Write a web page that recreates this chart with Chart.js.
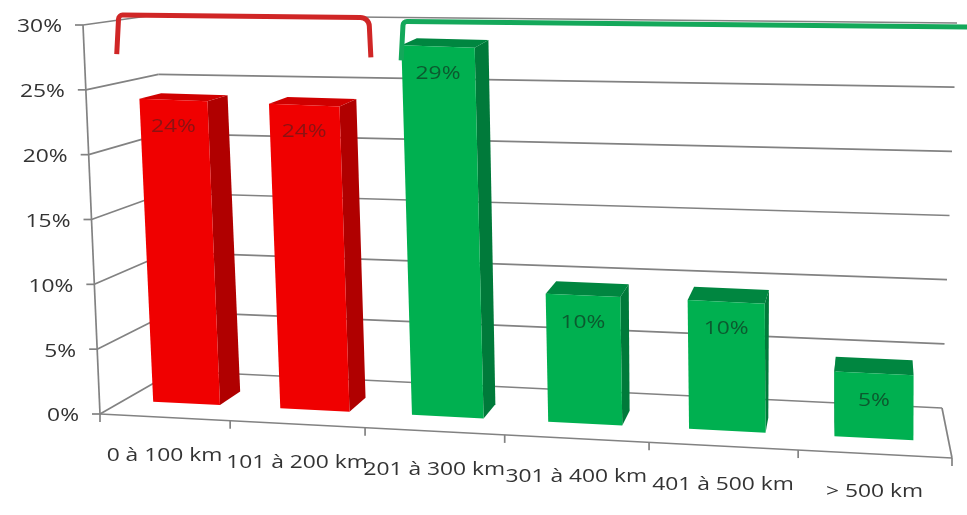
<!DOCTYPE html>
<html>
<head>
<meta charset="utf-8">
<script src="https://cdn.jsdelivr.net/npm/chart.js@4.4.0/dist/chart.umd.min.js"></script>
<style>
  html, body { margin: 0; padding: 0; background: #fff; }
</style>
</head>
<body>
<canvas id="chart" width="967" height="515"></canvas>
<script>
// data
var categories = ['0 à 100 km', '101 à 200 km', '201 à 300 km', '301 à 400 km', '401 à 500 km', '> 500 km'];
var shares = [0.24, 0.24, 0.29, 0.10, 0.10, 0.05];
var yTicks = [0, 0.05, 0.10, 0.15, 0.20, 0.25, 0.30];
var barGroup = [0, 0, 1, 1, 1, 1];

// brackets over the two groups, in category units
var groupFrom = [-0.4, 1.75];
var groupTo = [1.5, 6.5];
var groupTop = [0.30, 0.297];

var palette = [
    {front: '#f00000', side: '#b00000', top: '#d00000', text: '#8c1212', bracket: '#d02626'},
    {front: '#00b050', side: '#007a3a', top: '#008640', text: '#0b5a2f', bracket: '#14a85a'}
];

// the 3d box: front edge plane and back wall, in canvas pixels
var frontBox = {bl: [100, 414], br: [952, 458], tl: [83, 25], tr: [948, 66]};
var backWall = {bl: [175, 371], br: [942, 408], tl: [155, 15], tr: [957, 23]};
var barFront = 0.32, barBack = 0.63, foreshort = 0.1;
var textStretch = 1.2;
var font = '19px "Open Sans"';

function quad(q, a, b) {
    var x0 = q.bl[0] + (q.br[0] - q.bl[0]) * a, y0 = q.bl[1] + (q.br[1] - q.bl[1]) * a;
    var x1 = q.tl[0] + (q.tr[0] - q.tl[0]) * a, y1 = q.tl[1] + (q.tr[1] - q.tl[1]) * a;
    return [x0 + (x1 - x0) * b, y0 + (y1 - y0) * b];
}

function proj(a, b, c) {
    var w = a - foreshort * a * (1 - a);
    var f = quad(frontBox, w, b), k = quad(backWall, w, b);
    return [f[0] + (k[0] - f[0]) * c, f[1] + (k[1] - f[1]) * c];
}

function line(ctx, p, q) {
    ctx.beginPath();
    ctx.moveTo(p[0], p[1]);
    ctx.lineTo(q[0], q[1]);
    ctx.stroke();
}

function poly(ctx, pts, color) {
    ctx.beginPath();
    ctx.moveTo(pts[0][0], pts[0][1]);
    for (var i = 1; i < pts.length; i++) ctx.lineTo(pts[i][0], pts[i][1]);
    ctx.closePath();
    ctx.fillStyle = color;
    ctx.fill();
}

function text(ctx, str, x, y, align, color) {
    ctx.save();
    ctx.font = font;
    ctx.fillStyle = color;
    ctx.textAlign = align;
    ctx.textBaseline = 'middle';
    ctx.translate(x, y);
    ctx.scale(textStretch, 1);
    ctx.fillText(str, 0, 0);
    ctx.restore();
}

function pct(v) {
    return Math.round(v * 100) + '%';
}

var perspective = {
    id: 'perspective',
    beforeDraw: function (chart) {
        var ctx = chart.ctx;
        ctx.save();
        ctx.fillStyle = '#fff';
        ctx.fillRect(0, 0, chart.width, chart.height);
        ctx.restore();
    },
    beforeDatasetsDraw: function () {
        return false;
    },
    afterDraw: function (chart) {
        var ctx = chart.ctx, area = chart.chartArea;
        var xs = chart.scales.x, ys = chart.scales.y;
        var toA = function (px) { return (px - area.left) / (area.right - area.left); };
        var toB = function (py) { return (area.bottom - py) / (area.bottom - area.top); };

        ctx.save();
        ctx.strokeStyle = '#828282';
        ctx.lineWidth = 1.7;

        // walls and floor
        yTicks.forEach(function (v) {
            var b = toB(ys.getPixelForValue(v));
            line(ctx, proj(0, b, 1), proj(1, b, 1));
            line(ctx, proj(0, b, 0), proj(0, b, 1));
            var p = proj(0, b, 0);
            line(ctx, [p[0] - 8, p[1]], p);
        });
        line(ctx, proj(0, 0, 0), proj(0, 1, 0));
        line(ctx, proj(0, 0, 0), proj(1, 0, 0));
        line(ctx, proj(1, 0, 0), proj(1, 0, 1));
        for (var k = 0; k <= categories.length; k++) {
            var t = proj(toA(xs.getPixelForValue(k - 0.5)), 0, 0);
            line(ctx, t, [t[0], t[1] + 8]);
        }

        // bars
        var meta = chart.getDatasetMeta(0);
        meta.data.forEach(function (el, i) {
            var col = palette[barGroup[i]];
            var aL = toA(el.x - el.width / 2), aR = toA(el.x + el.width / 2);
            var b0 = toB(el.base), b1 = toB(el.y);
            var fl0 = proj(aL, b0, barFront), fr0 = proj(aR, b0, barFront);
            var fl1 = proj(aL, b1, barFront), fr1 = proj(aR, b1, barFront);
            var bl0 = proj(aL, b0, barBack), br0 = proj(aR, b0, barBack);
            var bl1 = proj(aL, b1, barBack), br1 = proj(aR, b1, barBack);
            if (br1[0] > fr1[0]) {
                poly(ctx, [fr0, br0, br1, fr1], col.side);
            } else {
                poly(ctx, [fl0, bl0, bl1, fl1], col.side);
            }
            poly(ctx, [fl1, fr1, br1, bl1], col.top);
            poly(ctx, [fl0, fr0, fr1, fl1], col.front);

            var mx = (fl1[0] + fr1[0]) / 2, my = (fl1[1] + fr1[1]) / 2;
            text(ctx, pct(shares[i]), mx, my + 27, 'center', col.text);
        });

        // axis labels
        yTicks.forEach(function (v) {
            var p = proj(0, toB(ys.getPixelForValue(v)), 0);
            text(ctx, pct(v), p[0] - 21, p[1] + 2, 'right', '#333');
        });
        categories.forEach(function (c, i) {
            var p = proj(toA(xs.getPixelForValue(i)), 0, 0);
            text(ctx, c, p[0], p[1] + 38, 'center', '#333');
        });

        // group brackets
        ctx.lineWidth = 5;
        ctx.lineJoin = 'round';
        groupFrom.forEach(function (g0, g) {
            var b = toB(ys.getPixelForValue(groupTop[g]));
            var aL = toA(xs.getPixelForValue(g0)), aR = toA(xs.getPixelForValue(groupTo[g]));
            var pL = [proj(aL, b, barFront)[0], proj(aL, b, 1)[1]];
            var pR = [proj(aR, b, barFront)[0], proj(aR, b, 1)[1]];
            ctx.strokeStyle = palette[g].bracket;
            ctx.beginPath();
            ctx.moveTo(pL[0] - 2, pL[1] + 39);
            ctx.arcTo(pL[0], pL[1], pL[0] + 10, pL[1], 4);
            ctx.arcTo(pR[0], pR[1], pR[0] + 2, pR[1] + 40, 9);
            ctx.lineTo(pR[0] + 2, pR[1] + 40);
            ctx.stroke();
        });
        ctx.restore();
    }
};

new Chart(document.getElementById('chart'), {
    type: 'bar',
    data: {
        labels: categories,
        datasets: [{
            data: shares,
            backgroundColor: barGroup.map(function (g) { return palette[g].front; }),
            barPercentage: 0.53,
            categoryPercentage: 1
        }]
    },
    options: {
        responsive: false,
        animation: false,
        layout: {padding: 0},
        plugins: {legend: {display: false}, tooltip: {enabled: false}},
        scales: {
            x: {display: false},
            y: {display: false, min: 0, max: 0.30}
        }
    },
    plugins: [perspective]
});
</script>
</body>
</html>
